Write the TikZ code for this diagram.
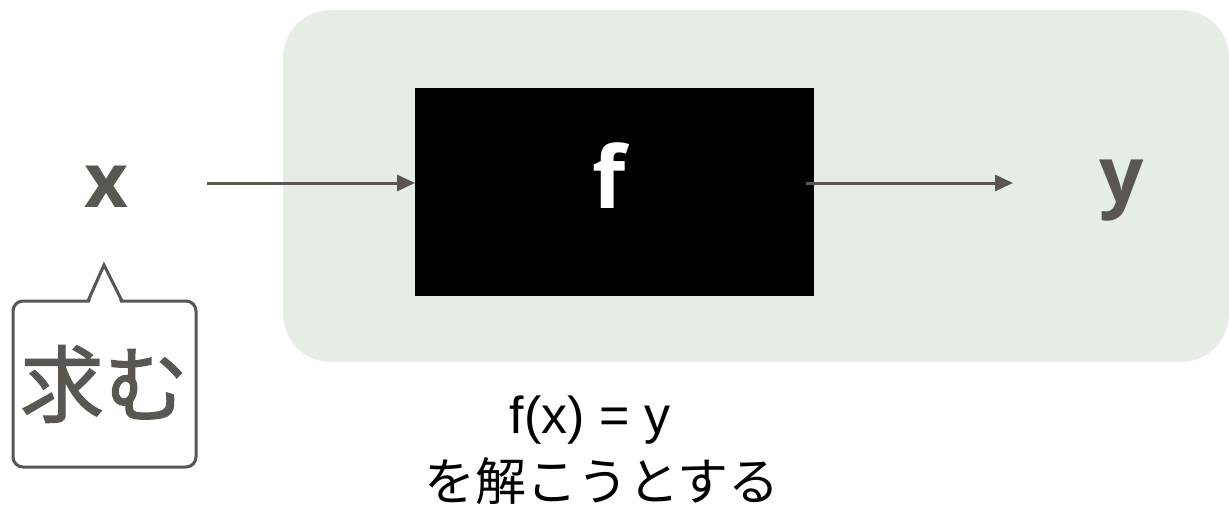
\documentclass[tikz,border=0pt]{standalone}
\usepackage{fontspec}
\setmainfont{Liberation Sans}
\newfontfamily\cjk{Noto Sans CJK JP}
\newfontfamily\cjkbold[FakeBold=1.5]{Noto Sans CJK JP}
\newfontfamily\lbl{Open Sans}
\usetikzlibrary{arrows.meta}
\definecolor{bggreen}{HTML}{E6EDE5}
\definecolor{ink}{HTML}{5A5753}
\tikzset{
  conn/.style={draw=ink, line width=3pt, -{Triangle[length=18pt,width=16pt]}},
  fbox/.style={fill=black, minimum width=399pt, minimum height=208pt, inner sep=0pt},
  bubble/.style={draw=ink, line width=3pt},
}
\begin{document}
\begin{tikzpicture}[x=1pt,y=-1pt]
\useasboundingbox (0,0) rectangle (1229,508);
% background panel
\fill[bggreen, rounded corners=48pt] (283,10) rectangle (1229,362);
% black box
\node[fbox, anchor=north west] (f) at (415,88) {};
\node[text=white, font=\lbl\bfseries\fontsize{86}{90}\selectfont, inner sep=0pt] (flbl) at (609,176) {f};
% labels
\node[text=ink, font=\lbl\bfseries\fontsize{76}{80}\selectfont, inner sep=0pt] (x) at (106,187) {x};
\node[text=ink, font=\lbl\bfseries\fontsize{78}{84}\selectfont, inner sep=0pt] (y) at (1122,191) {y};
\coordinate (xs) at (207,183);
\coordinate (ye) at (1013,183);
\draw[conn] (xs) -- (f.west |- xs);
\draw[conn] ([xshift=-8pt]f.east |- ye) -- (ye);
% speech bubble
\draw[bubble, fill=white, rounded corners=10pt] (13,301) rectangle (196,467);
\fill[white] (89.5,303) -- (104,270) -- (120.5,303) -- cycle;
\draw[bubble, miter limit=10] (88,301) -- (104,265) -- (122,301);
\node[text=ink, font=\cjkbold\fontsize{84}{90}\selectfont, inner sep=0pt] (req) at (104,384) {求む};
% bottom caption
\node[font=\fontsize{52}{60}\selectfont, inner sep=0pt] (cap1) at (590,420) {f(x) = y};
\node[font=\cjk\fontsize{51}{60}\selectfont, inner sep=0pt] (cap2) at (602,481) {を解こうとする};
\end{tikzpicture}
\end{document}
